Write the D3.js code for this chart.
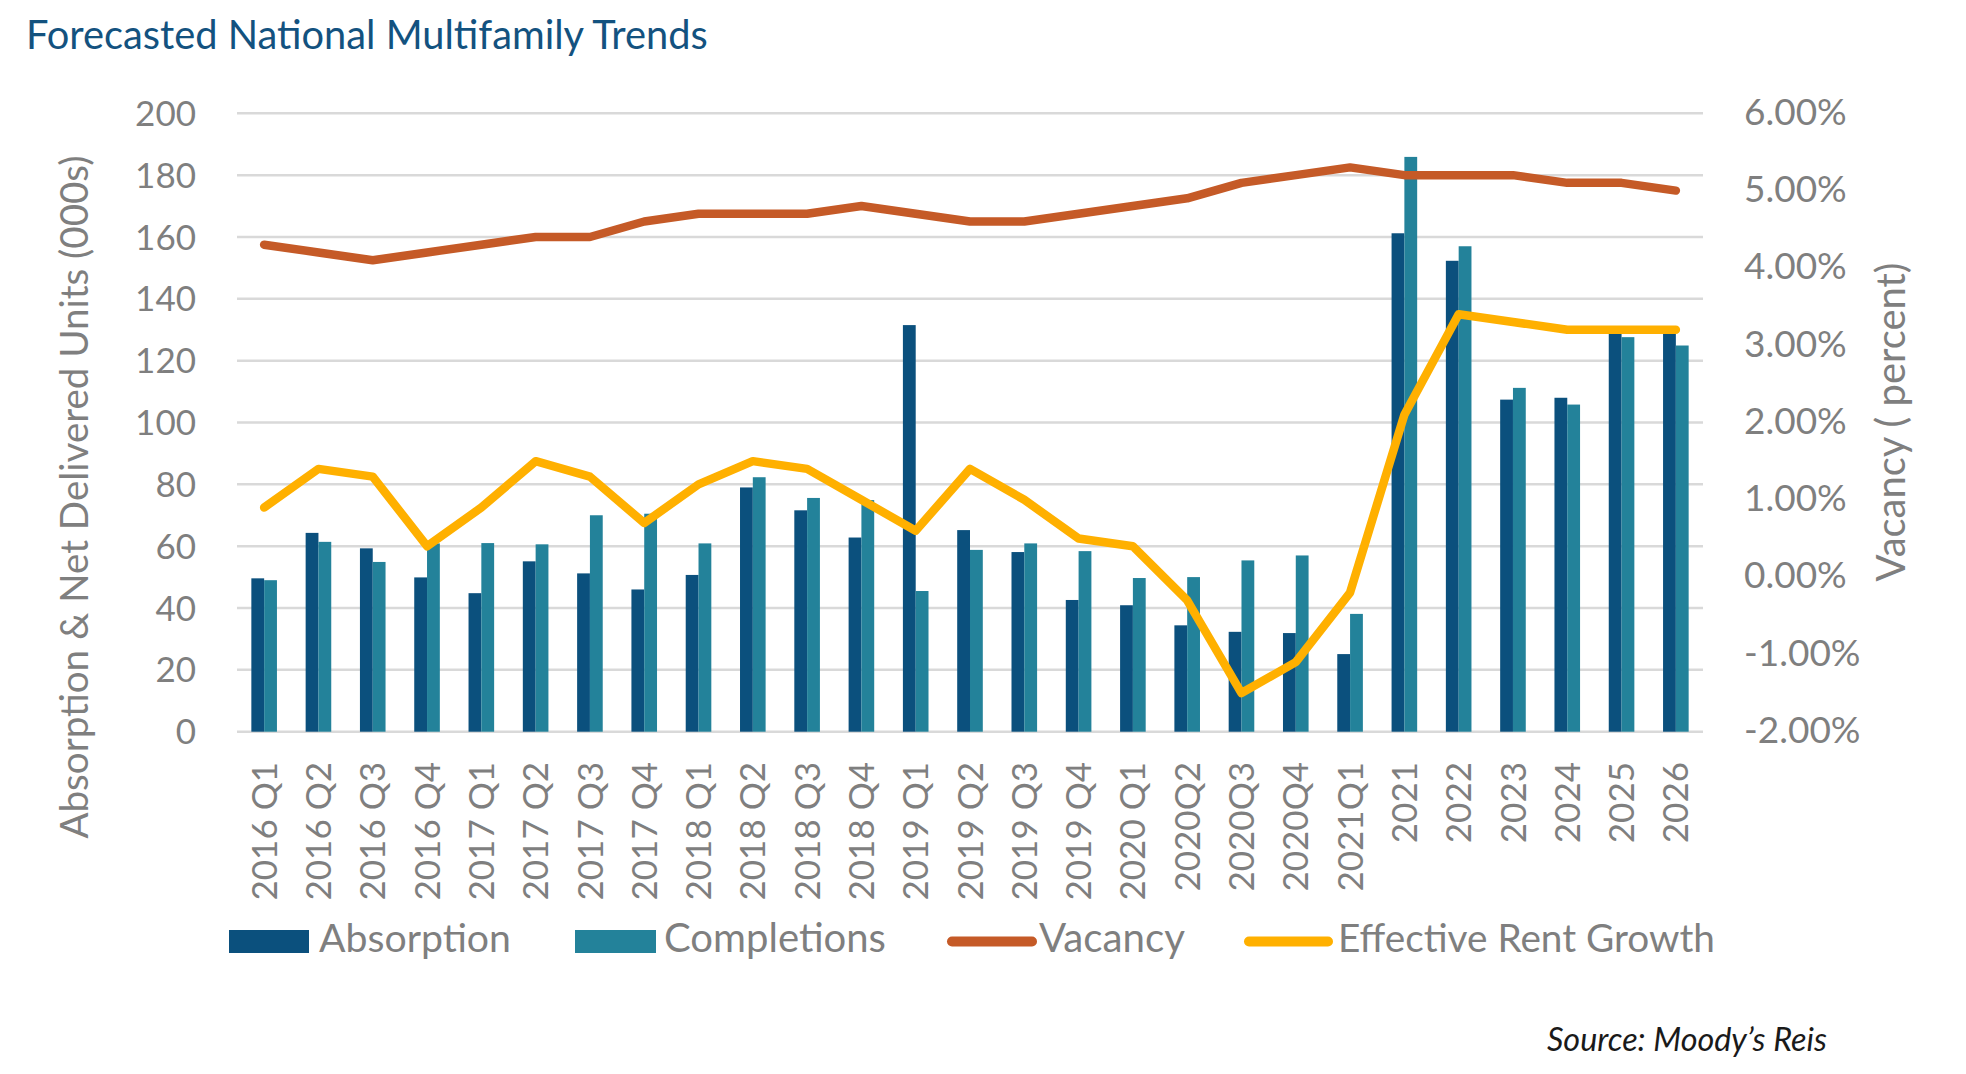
<!DOCTYPE html>
<html>
<head>
<meta charset="utf-8">
<script src="https://cdn.jsdelivr.net/npm/d3@7"></script>
<style>
  html, body { margin: 0; padding: 0; background: #ffffff; }
  svg { display: block; }
</style>
</head>
<body>
<svg id="chart" width="1966" height="1074"></svg>
<script>
// ---------- data ----------
const categories = [
  "2016 Q1","2016 Q2","2016 Q3","2016 Q4",
  "2017 Q1","2017 Q2","2017 Q3","2017 Q4",
  "2018 Q1","2018 Q2","2018 Q3","2018 Q4",
  "2019 Q1","2019 Q2","2019 Q3","2019 Q4",
  "2020 Q1","2020Q2","2020Q3","2020Q4","2021Q1",
  "2021","2022","2023","2024","2025","2026"
];
const absorption = [
  49.6, 64.3, 59.3, 49.9,
  44.8, 55.1, 51.2, 46.0,
  50.7, 79.0, 71.6, 62.8,
  131.5, 65.2, 58.1, 42.6,
  40.9, 34.4, 32.3, 31.9, 25.1,
  161.2, 152.3, 107.4, 108.0, 129.5, 130.0
];
const completions = [
  49.0, 61.4, 54.9, 60.9,
  61.0, 60.6, 70.0, 70.5,
  60.9, 82.3, 75.6, 74.9,
  45.5, 58.8, 60.9, 58.4,
  49.7, 50.0, 55.4, 57.0, 38.1,
  185.9, 157.0, 111.2, 105.8, 127.6, 124.9
];
const vacancy = [
  4.3, 4.2, 4.1, 4.2,
  4.3, 4.4, 4.4, 4.6,
  4.7, 4.7, 4.7, 4.8,
  4.7, 4.6, 4.6, 4.7,
  4.8, 4.9, 5.1, 5.2, 5.3,
  5.2, 5.2, 5.2, 5.1, 5.1, 5.0
];
const rentGrowth = [
  0.9, 1.4, 1.3, 0.4,
  0.9, 1.5, 1.3, 0.7,
  1.2, 1.5, 1.4, 1.0,
  0.6, 1.4, 1.0, 0.5,
  0.4, -0.3, -1.5, -1.1, -0.2,
  2.1, 3.4, 3.3, 3.2, 3.2, 3.2
];
const leftTicks = [0, 20, 40, 60, 80, 100, 120, 140, 160, 180, 200];
const rightTicks = [-2, -1, 0, 1, 2, 3, 4, 5, 6];
const titleText = "Forecasted National Multifamily Trends";
const leftTitle = "Absorption & Net Delivered Units (000s)";
const rightTitle = "Vacancy ( percent)";
const sourceText = "Source: Moody\u2019s Reis";
const seriesNames = ["Absorption", "Completions", "Vacancy", "Effective Rent Growth"];

// ---------- styles ----------
const FONT = "Lato, 'Open Sans', sans-serif";
const GRAY = "#7f7f7f";
const C_ABS = "#0b507d";
const C_COMP = "#23829a";
const C_VAC = "#c55a27";
const C_RENT = "#ffb000";

const svg = d3.select("#chart");
const L = 237, R = 1703, T = 113.3, B = 731.7;

function fit(sel, w) {
  const cur = sel.node().getComputedTextLength();
  const fs = parseFloat(sel.attr("font-size"));
  sel.attr("font-size", fs * w / cur);
  return sel;
}

const x = d3.scaleBand().domain(categories).range([L, R]).paddingInner(0).paddingOuter(0);
const barW = 12.8;
const sub = d3.scaleBand().domain(["abs", "comp"]).range([-barW, barW]);
const yL = d3.scaleLinear().domain([0, 200]).range([B, T]);
const yR = d3.scaleLinear().domain([-2, 6]).range([B, T]);

// gridlines
svg.append("g").selectAll("line").data(leftTicks).join("line")
  .attr("x1", L).attr("x2", R)
  .attr("y1", d => yL(d)).attr("y2", d => yL(d))
  .attr("stroke", "#d9d9d9").attr("stroke-width", 2.5);

// left tick labels
svg.append("g").selectAll("text").data(leftTicks).join("text")
  .attr("x", 196).attr("y", d => yL(d)).attr("dy", "0.36em")
  .attr("text-anchor", "end").attr("font-family", FONT).attr("font-size", 35)
  .attr("fill", GRAY).text(d => d);

// right tick labels
svg.append("g").selectAll("text").data(rightTicks).join("text")
  .attr("x", 1744).attr("y", d => yR(d) - 2).attr("dy", "0.36em")
  .attr("text-anchor", "start").attr("font-family", FONT).attr("font-size", 37)
  .attr("fill", GRAY).text(d => d.toFixed(2) + "%");

// x labels
svg.append("g").selectAll("text").data(categories).join("text")
  .attr("transform", d => `translate(${x(d) + x.bandwidth() / 2},762) rotate(-90)`)
  .attr("text-anchor", "end").attr("dy", "0.36em")
  .attr("font-family", FONT).attr("font-size", 35).attr("fill", GRAY)
  .text(d => d);

// bars
const gBars = svg.append("g");
categories.forEach((c, i) => {
  const cx = x(c) + x.bandwidth() / 2;
  gBars.append("rect")
    .attr("x", cx + sub("abs")).attr("width", sub.bandwidth())
    .attr("y", yL(absorption[i])).attr("height", yL(0) - yL(absorption[i]))
    .attr("fill", C_ABS);
  gBars.append("rect")
    .attr("x", cx + sub("comp")).attr("width", sub.bandwidth())
    .attr("y", yL(completions[i])).attr("height", yL(0) - yL(completions[i]))
    .attr("fill", C_COMP);
});

// lines
const lineGen = d3.line()
  .x((d, i) => x(categories[i]) + x.bandwidth() / 2)
  .y(d => yR(d));
svg.append("path").datum(vacancy).attr("d", lineGen)
  .attr("fill", "none").attr("stroke", C_VAC).attr("stroke-width", 8.5)
  .attr("stroke-linejoin", "round").attr("stroke-linecap", "round");
svg.append("path").datum(rentGrowth).attr("d", lineGen)
  .attr("fill", "none").attr("stroke", C_RENT).attr("stroke-width", 8.5)
  .attr("stroke-linejoin", "round").attr("stroke-linecap", "round");

// title
fit(svg.append("text").attr("x", 26).attr("y", 49)
  .attr("font-family", FONT).attr("font-size", 38).attr("fill", "#13527f")
  .text(titleText), 682);

// axis titles
fit(svg.append("text").attr("transform", "translate(76,497) rotate(-90)")
  .attr("text-anchor", "middle").attr("dy", "0.3em")
  .attr("font-family", FONT).attr("font-size", 36).attr("fill", GRAY)
  .text(leftTitle), 683);
fit(svg.append("text").attr("transform", "translate(1893,422) rotate(-90)")
  .attr("text-anchor", "middle").attr("dy", "0.3em")
  .attr("font-family", FONT).attr("font-size", 36).attr("fill", GRAY)
  .text(rightTitle), 319);

// legend
const legY = 941.5;
const leg = svg.append("g");
leg.append("rect").attr("x", 229).attr("y", legY - 11.5).attr("width", 80).attr("height", 23).attr("fill", C_ABS);
leg.append("rect").attr("x", 575).attr("y", legY - 11.5).attr("width", 81).attr("height", 23).attr("fill", C_COMP);
leg.append("line").attr("x1", 952).attr("x2", 1032).attr("y1", legY).attr("y2", legY)
  .attr("stroke", C_VAC).attr("stroke-width", 10).attr("stroke-linecap", "round");
leg.append("line").attr("x1", 1249).attr("x2", 1328).attr("y1", legY).attr("y2", legY)
  .attr("stroke", C_RENT).attr("stroke-width", 10).attr("stroke-linecap", "round");
const legText = [[319, 192], [664, 222], [1039, 146], [1338, 377]];
seriesNames.forEach((n, i) => {
  fit(leg.append("text").attr("x", legText[i][0]).attr("y", 952)
    .attr("font-family", FONT).attr("font-size", 38).attr("fill", GRAY)
    .text(n), legText[i][1]);
});

// source
fit(svg.append("text").attr("x", 1547).attr("y", 1051)
  .attr("font-family", FONT).attr("font-style", "italic").attr("font-size", 33)
  .attr("fill", "#1a1a1a").text(sourceText), 280);
</script>
</body>
</html>
